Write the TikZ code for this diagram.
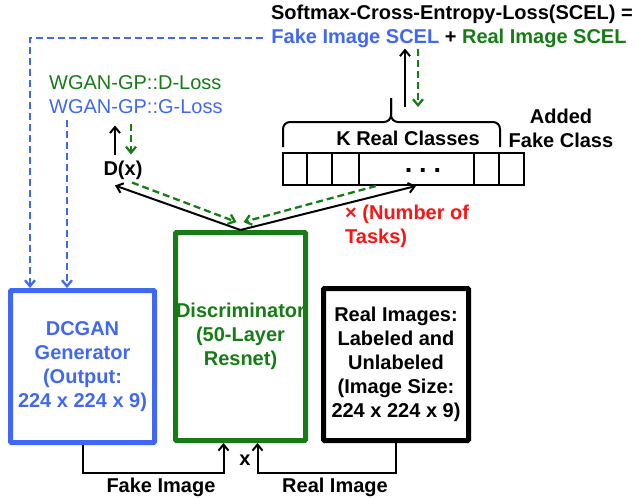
\documentclass[tikz,border=0pt]{standalone}
\usepackage{fontspec}
\setmainfont{Liberation Sans}
\usetikzlibrary{arrows.meta}

\definecolor{ganblue}{RGB}{64,104,245}
\definecolor{gangreen}{RGB}{22,125,22}
\definecolor{ganred}{RGB}{250,20,20}

\tikzset{
    lbl/.style={font=\fontsize{20pt}{24pt}\selectfont\bfseries, inner sep=0pt, align=center},
    thinlbl/.style={font=\fontsize{20pt}{24pt}\selectfont, inner sep=0pt, anchor=west},
    netbox/.style={draw, line width=5pt, lbl, rounded corners=1pt},
    flow/.style={->, line width=2pt},
    gdash/.style={line width=2.3pt, dash pattern=on 7pt off 4pt}
}

\begin{document}
\begin{tikzpicture}[x=1pt, y=-1pt, >={Straight Barb[length=6pt,width=10pt]}]
    \useasboundingbox (0,0) rectangle (638,498);

    % Loss formula at the top
    \node[lbl] (scel) at (452,14) {Softmax-Cross-Entropy-Loss(SCEL) =};
    \node[lbl] (scelsum) at (449,38) {\textcolor{ganblue}{Fake Image SCEL} + \textcolor{gangreen}{Real Image SCEL}};

    % WGAN-GP losses and critic output
    \node[thinlbl, text=gangreen] (dloss) at (49,83) {WGAN-GP::D-Loss};
    \node[thinlbl, text=ganblue] (gloss) at (49,107) {WGAN-GP::G-Loss};
    \node[lbl] (dx) at (123,170) {D(x)};

    % The three main blocks
    \node[netbox, draw=ganblue, text=ganblue, minimum width=144, minimum height=152] (gen) at (82.5,366.5)
        {DCGAN\\Generator\\(Output:\\224 x 224 x 9)};
    \node[netbox, draw=gangreen, text=gangreen, minimum width=130, minimum height=208] (disc) at (240.5,336.5)
        {Discriminator\\(50-Layer\\Resnet)};
    \node[netbox, minimum width=145, minimum height=152] (real) at (396,364.5)
        {Real Images:\\Labeled and\\Unlabeled\\(Image Size:\\224 x 224 x 9)};

    % Class output vector
    \node[draw, line width=2pt, minimum width=241, minimum height=32, inner sep=0pt] (cells) at (403.5,169) {};
    \foreach \cx in {25,50,77,192,217}
        \draw[line width=2pt] ([xshift=\cx pt]cells.north west) -- ([xshift=\cx pt]cells.south west);
    \node[lbl, font=\fontsize{27pt}{27pt}\selectfont\bfseries, text height=4pt, text depth=0pt] (dots) at (423,170)
        {.\hspace{7pt}.\hspace{7pt}.};

    % Brace over the real classes
    \coordinate (kbrace) at (391,98);
    \draw[line width=2pt, rounded corners=7pt] (283,147) |- (391,122) -- (kbrace);
    \draw[line width=2pt, rounded corners=7pt] (kbrace) -- (391,122) -| (500,147);
    \node[lbl] (kreal) at (408,138) {K Real Classes};
    \node[lbl] (fakecls) at (561,128) {Added\\Fake Class};
    \node[lbl, text=ganred, align=left, anchor=north west] (tasks) at (345,205) {× (Number of\\Tasks)};

    % Brace to loss formula and back
    \draw[flow] ([xshift=14pt,yshift=-9pt]kbrace) -- ([xshift=-44pt,yshift=-1pt]scelsum.south);
    \draw[flow, gdash, gangreen] ([xshift=-31pt,yshift=-1pt]scelsum.south) -- ([xshift=27pt,yshift=-9pt]kbrace);

    % D(x) to WGAN losses and back
    \draw[flow] ([xshift=-8pt]dx.north) ++(0,-5) -- ++(0,-30);
    \draw[flow, gdash, gangreen] ([xshift=8pt]dx.north) ++(0,-36) -- ++(0,30);

    % Discriminator outputs
    \draw[flow] (disc.north) -- ([xshift=-8pt,yshift=-6pt]dx.south);
    \draw[flow, gdash, gangreen] ([xshift=9pt,yshift=-3pt]dx.south) -- ([xshift=-4pt,yshift=8pt]disc.north);
    \draw[flow] (disc.north) -- ([xshift=134pt]cells.south west);
    \draw[flow, gdash, gangreen] ([xshift=94pt]cells.south west) -- ([xshift=3pt,yshift=8pt]disc.north);

    % Generator updates
    \draw[->, gdash, ganblue, shorten <=8pt] (scelsum.west) -| ([xshift=22pt]gen.north west);
    \draw[->, gdash, ganblue, shorten <=6pt] ([xshift=18pt]gloss.south west) -- ([xshift=59pt]gen.north west);

    % Images into the discriminator
    \draw[flow] (gen.south) -- ++(0,28) -| ([xshift=-17pt]disc.south);
    \draw[flow] (real.south) -- ++(0,30) -| ([xshift=17pt]disc.south);
    \node[lbl] (times) at (245,460) {x};
    \node[lbl] (fakeimg) at (161,487) {Fake Image};
    \node[lbl] (realimg) at (335,487) {Real Image};
\end{tikzpicture}
\end{document}
